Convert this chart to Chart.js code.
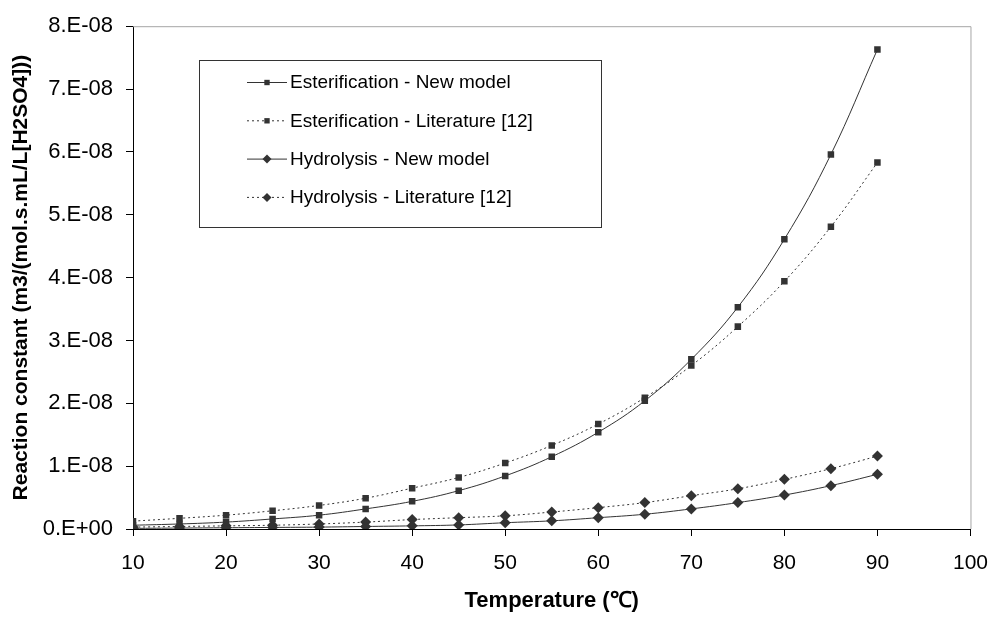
<!DOCTYPE html>
<html>
<head>
<meta charset="utf-8">
<script src="https://cdn.jsdelivr.net/npm/chart.js@4.4.0/dist/chart.umd.min.js"></script>
<style>
  html, body { margin: 0; padding: 0; background: #fff; }
  #wrap { width: 1003px; height: 617px; }
</style>
</head>
<body>
<div id="wrap"><canvas id="rateChart" width="1003" height="617"></canvas></div>
<script>
// Temperaturas (°C) e constantes de reação
const temperatures = [10, 15, 20, 25, 30, 35, 40, 45, 50, 55, 60, 65, 70, 75, 80, 85, 90];
const esterNewModel = [0.06e-8, 0.08e-8, 0.11e-8, 0.16e-8, 0.22e-8, 0.32e-8, 0.44e-8, 0.61e-8, 0.845e-8, 1.15e-8, 1.54e-8, 2.04e-8, 2.70e-8, 3.53e-8, 4.61e-8, 5.96e-8, 7.63e-8];
const esterLiterature = [0.125e-8, 0.17e-8, 0.22e-8, 0.29e-8, 0.375e-8, 0.49e-8, 0.65e-8, 0.82e-8, 1.05e-8, 1.33e-8, 1.67e-8, 2.09e-8, 2.60e-8, 3.22e-8, 3.94e-8, 4.81e-8, 5.83e-8];
const hydroNewModel = [0.01e-8, 0.015e-8, 0.02e-8, 0.025e-8, 0.03e-8, 0.04e-8, 0.05e-8, 0.065e-8, 0.10e-8, 0.13e-8, 0.18e-8, 0.235e-8, 0.32e-8, 0.42e-8, 0.54e-8, 0.69e-8, 0.87e-8];
const hydroLiterature = [0.03e-8, 0.04e-8, 0.05e-8, 0.06e-8, 0.08e-8, 0.11e-8, 0.15e-8, 0.18e-8, 0.21e-8, 0.27e-8, 0.34e-8, 0.42e-8, 0.53e-8, 0.64e-8, 0.79e-8, 0.96e-8, 1.16e-8];
const seriesLabels = ['Esterification - New model', 'Esterification - Literature [12]', 'Hydrolysis - New model', 'Hydrolysis - Literature [12]'];

const FONT = "'Liberation Sans', Arial, sans-serif";
const INK = '#333333';

const toPoints = (values) => values.map((v, i) => ({ x: temperatures[i], y: v }));

const makeSeries = (label, values, dashed, marker) => ({
  label,
  data: toPoints(values),
  borderColor: INK,
  backgroundColor: INK,
  borderWidth: 1,
  borderDash: dashed ? [2, 3] : [],
  pointStyle: marker,
  pointRadius: marker === 'rect' ? 4.6 : 5.5,
  pointBackgroundColor: INK,
  pointBorderColor: INK,
  pointBorderWidth: 0,
  tension: 0.4,
  fill: false
});

// Moldura cinza (topo e direita) da área do gráfico
const frameBorder = {
  id: 'frameBorder',
  afterDraw(chart) {
    const { ctx, chartArea: a } = chart;
    ctx.save();
    ctx.strokeStyle = '#a6a6a6';
    ctx.lineWidth = 1;
    ctx.beginPath();
    ctx.moveTo(a.left, a.top + 0.5);
    ctx.lineTo(a.right + 0.5, a.top + 0.5);
    ctx.lineTo(a.right + 0.5, a.bottom);
    ctx.stroke();
    ctx.restore();
  }
};

// Legenda em caixa dentro da área do gráfico
const boxedLegend = {
  id: 'boxedLegend',
  afterDraw(chart) {
    const { ctx } = chart;
    const box = { x: 199, y: 60, w: 402, h: 167 };
    ctx.save();
    ctx.fillStyle = '#fff';
    ctx.fillRect(box.x, box.y, box.w, box.h);
    ctx.strokeStyle = '#333';
    ctx.lineWidth = 1;
    ctx.strokeRect(box.x + 0.5, box.y + 0.5, box.w, box.h);
    ctx.font = `19px ${FONT}`;
    ctx.textBaseline = 'middle';
    chart.data.datasets.forEach((ds, i) => {
      const y = 82 + i * 38.3;
      ctx.strokeStyle = INK;
      ctx.setLineDash(ds.borderDash);
      ctx.beginPath();
      ctx.moveTo(247, y + 0.5);
      ctx.lineTo(287, y + 0.5);
      ctx.stroke();
      ctx.setLineDash([]);
      ctx.fillStyle = INK;
      Chart.helpers.drawPoint(ctx, { pointStyle: ds.pointStyle, radius: ds.pointStyle === 'rect' ? 3.8 : 4.5, borderWidth: 0 }, 267, y + 0.5);
      ctx.fillStyle = '#000';
      ctx.fillText(ds.label, 290, y + 1);
    });
    ctx.restore();
  }
};

new Chart(document.getElementById('rateChart'), {
  type: 'line',
  data: {
    datasets: [
      makeSeries(seriesLabels[0], esterNewModel, false, 'rect'),
      makeSeries(seriesLabels[1], esterLiterature, true, 'rect'),
      makeSeries(seriesLabels[2], hydroNewModel, false, 'rectRot'),
      makeSeries(seriesLabels[3], hydroLiterature, true, 'rectRot')
    ]
  },
  options: {
    responsive: false,
    animation: false,
    layout: { padding: { top: 17, right: 22, left: 0, bottom: 0 } },
    plugins: { legend: { display: false }, tooltip: { enabled: false } },
    scales: {
      x: {
        type: 'linear',
        min: 10,
        max: 100,
        afterFit: (scale) => { scale.height = 88; },
        ticks: { stepSize: 10, color: '#000', padding: 15, maxRotation: 0, font: { family: FONT, size: 21 } },
        grid: { drawOnChartArea: false, drawTicks: true, tickLength: 7, color: '#000' },
        border: { display: true, color: '#000', width: 1 },
        title: { display: true, text: 'Temperature (\u2103)', color: '#000', padding: { top: 0, bottom: 3 }, font: { family: FONT, size: 22, weight: 'bold' } }
      },
      y: {
        min: 0,
        max: 8e-8,
        afterFit: (scale) => { scale.width = 133; },
        ticks: {
          stepSize: 1e-8,
          color: '#000',
          padding: 13,
          font: { family: FONT, size: 22 },
          callback: (value) => {
            const n = Math.round(value / 1e-8);
            return n === 0 ? '0.E+00' : `${n}.E-08`;
          }
        },
        grid: { drawOnChartArea: false, drawTicks: true, tickLength: 7, color: '#000' },
        border: { display: true, color: '#000', width: 1 },
        title: { display: true, text: 'Reaction constant (m3/(mol.s.mL/L[H2SO4]))', color: '#000', padding: { top: 9, bottom: 0 }, font: { family: FONT, size: 21, weight: 'bold' } }
      }
    }
  },
  plugins: [frameBorder, boxedLegend]
});
</script>
</body>
</html>
